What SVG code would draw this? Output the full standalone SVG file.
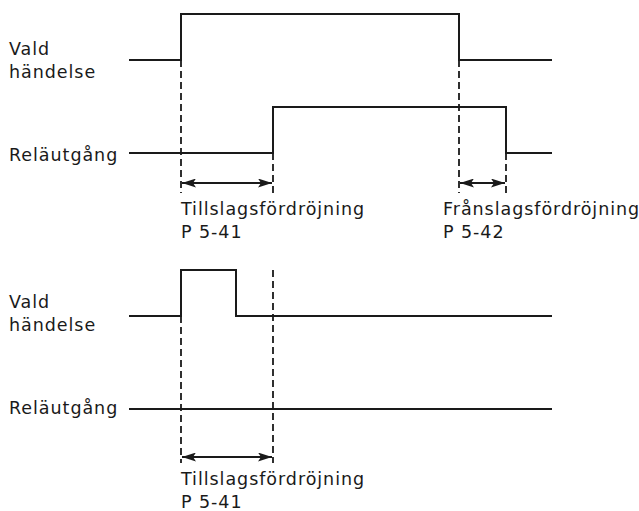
<svg xmlns="http://www.w3.org/2000/svg" width="639" height="511" viewBox="0 0 639 511">
<defs>
<marker id="ah" viewBox="0 0 14 9" refX="14" refY="4.5" markerWidth="14" markerHeight="9" markerUnits="userSpaceOnUse" orient="auto-start-reverse">
<path d="M0,0 L14,4.5 L0,9 L3,4.5 Z" fill="#1a1a1a"/>
</marker>
</defs>
<style>
.sig{fill:none;stroke:#1a1a1a;stroke-width:2}
.dash{fill:none;stroke:#1a1a1a;stroke-width:1.8;stroke-dasharray:7,4}
.dim{fill:none;stroke:#1a1a1a;stroke-width:1.8;marker-start:url(#ah);marker-end:url(#ah)}
text{font-family:"DejaVu Sans",Verdana,sans-serif;font-size:17.5px;letter-spacing:0.95px;fill:#1a1a1a}
</style>
<rect width="639" height="511" fill="#fff"/>
<g id="labels">
<text x="9" y="55">Vald</text>
<text x="9" y="78">händelse</text>
<text x="9" y="161">Reläutgång</text>
<text x="181" y="215">Tillslagsfördröjning</text>
<text x="181" y="238">P 5-41</text>
<text x="443" y="215">Frånslagsfördröjning</text>
<text x="443" y="238">P 5-42</text>
<text x="9" y="308">Vald</text>
<text x="9" y="331">händelse</text>
<text x="9" y="414">Reläutgång</text>
<text x="181" y="485">Tillslagsfördröjning</text>
<text x="181" y="508">P 5-41</text>
</g>
<g id="signals">
<polyline class="sig" points="129,60 181,60 181,14 459,14 459,60 552,60"/>
<polyline class="sig" points="129,153 273,153 273,107 506,107 506,153 552,153"/>
<polyline class="sig" points="129,316 181,316 181,270 236,270 236,316 552,316"/>
<polyline class="sig" points="129,409 552,409"/>
</g>
<g id="connectors">
<line class="dash" x1="181" y1="60" x2="181" y2="193"/>
<line class="dash" x1="273" y1="153" x2="273" y2="193"/>
<line class="dash" x1="459" y1="60" x2="459" y2="193"/>
<line class="dash" x1="506" y1="153" x2="506" y2="193"/>
<line class="dash" x1="181" y1="316" x2="181" y2="463"/>
<line class="dash" x1="273" y1="270" x2="273" y2="463"/>
<line class="dim" x1="182" y1="183" x2="272" y2="183"/>
<line class="dim" x1="460" y1="183" x2="505" y2="183"/>
<line class="dim" x1="182" y1="457" x2="272" y2="457"/>
</g>
</svg>
